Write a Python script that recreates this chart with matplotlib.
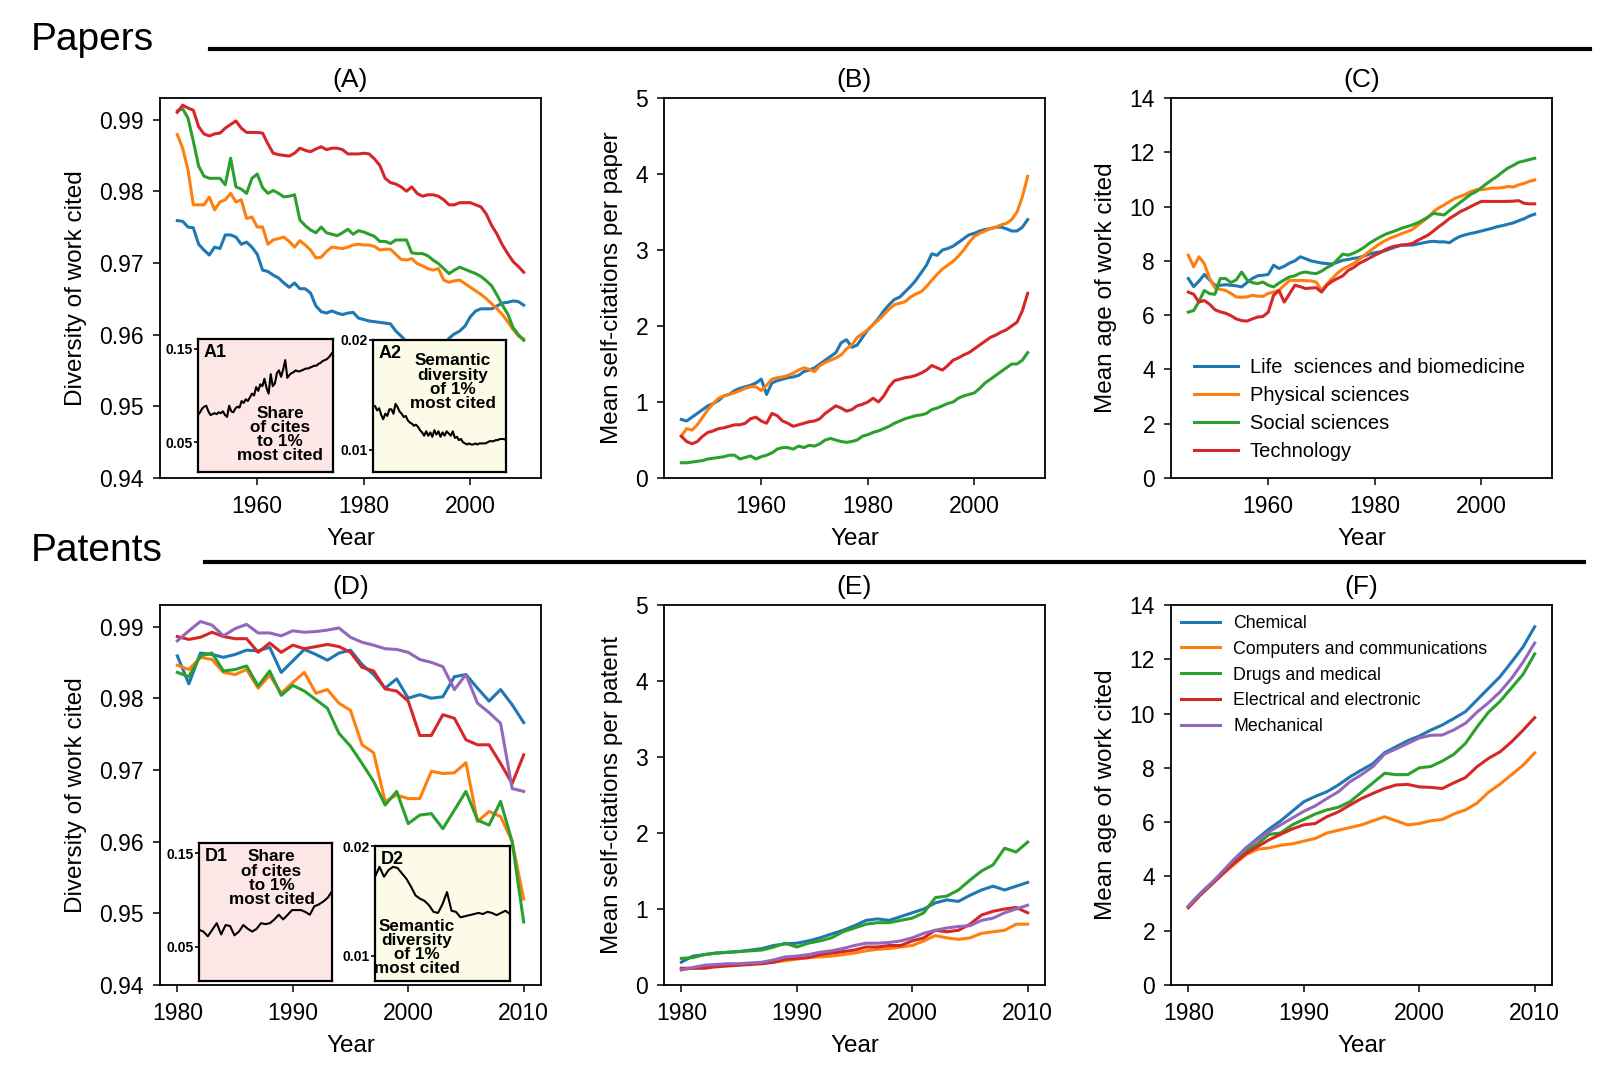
import numpy as np
import matplotlib
matplotlib.use('Agg')
import matplotlib.pyplot as plt
from matplotlib.lines import Line2D

plt.rcParams['font.family'] = ['Liberation Sans', 'DejaVu Sans']

# ---------------- data ----------------
years_papers = np.arange(1945, 2011)
years_patents = np.arange(1980, 2011)

paper_fields = ['Life  sciences and biomedicine', 'Physical sciences', 'Social sciences', 'Technology']
patent_fields = ['Chemical', 'Computers and communications', 'Drugs and medical',
                 'Electrical and electronic', 'Mechanical']
paper_colors = ['#1f77b4', '#ff7f0e', '#2ca02c', '#d62728']
patent_colors = ['#1f77b4', '#ff7f0e', '#2ca02c', '#d62728', '#9467bd']

# (A) diversity of work cited, papers
div_life = [0.9759, 0.9758, 0.9750, 0.9749, 0.9726, 0.9718, 0.9711, 0.9722, 0.9720, 0.9739,
            0.9739, 0.9736, 0.9726, 0.9729, 0.9722, 0.9712, 0.9690, 0.9688, 0.9683, 0.9679,
            0.9672, 0.9666, 0.9672, 0.9664, 0.9664, 0.9658, 0.9640, 0.9632, 0.9630, 0.9633,
            0.9630, 0.9628, 0.9630, 0.9631, 0.9623, 0.9621, 0.9619, 0.9618, 0.9617, 0.9616,
            0.9615, 0.9605, 0.9598, 0.9590, 0.9584, 0.9580, 0.9578, 0.9576, 0.9575, 0.9578,
            0.9585, 0.9595, 0.9601, 0.9605, 0.9612, 0.9625, 0.9633, 0.9636, 0.9636, 0.9636,
            0.9640, 0.9644, 0.9645, 0.9647, 0.9646, 0.9641]
div_phys = [0.9879, 0.9860, 0.9830, 0.9781, 0.9781, 0.9781, 0.9792, 0.9774, 0.9785, 0.9788,
            0.9797, 0.9785, 0.9788, 0.9762, 0.9764, 0.9750, 0.9750, 0.9726, 0.9732, 0.9734,
            0.9736, 0.9730, 0.9722, 0.9731, 0.9725, 0.9718, 0.9707, 0.9708, 0.9716, 0.9722,
            0.9721, 0.9720, 0.9722, 0.9725, 0.9726, 0.9725, 0.9725, 0.9723, 0.9718, 0.9719,
            0.9719, 0.9712, 0.9705, 0.9704, 0.9706, 0.9699, 0.9696, 0.9692, 0.9690, 0.9692,
            0.9676, 0.9673, 0.9675, 0.9676, 0.9671, 0.9666, 0.9661, 0.9656, 0.9650, 0.9643,
            0.9636, 0.9628, 0.9618, 0.9607, 0.9598, 0.9594]
div_soc = [0.9912, 0.9915, 0.9902, 0.9870, 0.9835, 0.9821, 0.9818, 0.9818, 0.9818, 0.9809,
           0.9846, 0.9806, 0.9803, 0.9797, 0.9818, 0.9824, 0.9805, 0.9797, 0.9801, 0.9797,
           0.9792, 0.9793, 0.9795, 0.9760, 0.9752, 0.9746, 0.9742, 0.9750, 0.9742, 0.9740,
           0.9738, 0.9742, 0.9747, 0.9740, 0.9745, 0.9743, 0.9740, 0.9737, 0.9730, 0.9730,
           0.9727, 0.9732, 0.9732, 0.9732, 0.9714, 0.9713, 0.9713, 0.9710, 0.9704, 0.9699,
           0.9692, 0.9685, 0.9690, 0.9694, 0.9691, 0.9688, 0.9685, 0.9681, 0.9675, 0.9668,
           0.9655, 0.9641, 0.9629, 0.9610, 0.9600, 0.9592]
div_tech = [0.9910, 0.9920, 0.9916, 0.9913, 0.9890, 0.9880, 0.9877, 0.9880, 0.9881, 0.9888,
            0.9893, 0.9898, 0.9888, 0.9882, 0.9882, 0.9882, 0.9881, 0.9866, 0.9853, 0.9851,
            0.9850, 0.9849, 0.9853, 0.9860, 0.9857, 0.9855, 0.9859, 0.9862, 0.9858, 0.9860,
            0.9860, 0.9858, 0.9852, 0.9852, 0.9852, 0.9853, 0.9852, 0.9845, 0.9836, 0.9818,
            0.9812, 0.9810, 0.9806, 0.9800, 0.9806, 0.9797, 0.9793, 0.9795, 0.9795, 0.9793,
            0.9788, 0.9781, 0.9781, 0.9784, 0.9784, 0.9784, 0.9781, 0.9778, 0.9768, 0.9752,
            0.9740, 0.9725, 0.9713, 0.9702, 0.9695, 0.9687]

# (A1) share of cites to 1% most cited, (A2) semantic diversity of 1% most cited
share_top_papers = [0.079, 0.082, 0.086, 0.088, 0.089, 0.083, 0.079, 0.080, 0.081, 0.080,
                    0.082, 0.081, 0.083, 0.079, 0.077, 0.089, 0.083, 0.082, 0.086, 0.088,
                    0.087, 0.094, 0.092, 0.096, 0.094, 0.098, 0.102, 0.100, 0.109, 0.105,
                    0.112, 0.110, 0.118, 0.108, 0.102, 0.123, 0.110, 0.113, 0.124, 0.127,
                    0.120, 0.128, 0.138, 0.119, 0.122, 0.124, 0.125, 0.127, 0.126, 0.126,
                    0.127, 0.128, 0.129, 0.129, 0.130, 0.131, 0.132, 0.132, 0.134, 0.135,
                    0.137, 0.138, 0.139, 0.141, 0.144, 0.147]
sem_top_papers = [0.0140, 0.0140, 0.0136, 0.0138, 0.0132, 0.0128, 0.0133, 0.0131, 0.0137, 0.0137,
                  0.0133, 0.0142, 0.0139, 0.0135, 0.0133, 0.0130, 0.0131, 0.0127, 0.0125, 0.0124,
                  0.0122, 0.0123, 0.0121, 0.0118, 0.0116, 0.0113, 0.0117, 0.0113, 0.0116, 0.0112,
                  0.0118, 0.0114, 0.0117, 0.0112, 0.0116, 0.0113, 0.0117, 0.0115, 0.0113, 0.0117,
                  0.0111, 0.0112, 0.0109, 0.0110, 0.0107, 0.0106, 0.0105, 0.0106, 0.0105, 0.0105,
                  0.0106, 0.0105, 0.0106, 0.0106, 0.0106, 0.0106, 0.0107, 0.0108, 0.0108, 0.0108,
                  0.0109, 0.0109, 0.0110, 0.0110, 0.0110, 0.0109]

# (B) mean self-citations per paper
self_life = [0.77, 0.75, 0.80, 0.85, 0.90, 0.95, 0.98, 1.02, 1.08, 1.10, 1.15, 1.18, 1.20, 1.22,
             1.25, 1.30, 1.10, 1.25, 1.28, 1.30, 1.32, 1.33, 1.35, 1.40, 1.42, 1.45, 1.50, 1.55,
             1.60, 1.65, 1.78, 1.82, 1.72, 1.75, 1.85, 1.95, 2.02, 2.10, 2.20, 2.28, 2.35, 2.38,
             2.45, 2.52, 2.60, 2.70, 2.80, 2.95, 2.93, 3.00, 3.02, 3.05, 3.10, 3.15, 3.20, 3.22,
             3.25, 3.27, 3.28, 3.30, 3.30, 3.28, 3.25, 3.25, 3.30, 3.40]
self_phys = [0.55, 0.65, 0.63, 0.70, 0.80, 0.90, 0.98, 1.05, 1.08, 1.10, 1.12, 1.15, 1.18, 1.20,
             1.20, 1.15, 1.22, 1.30, 1.32, 1.33, 1.35, 1.38, 1.42, 1.45, 1.43, 1.40, 1.48, 1.52,
             1.55, 1.58, 1.62, 1.70, 1.75, 1.85, 1.90, 1.95, 2.02, 2.08, 2.15, 2.22, 2.28, 2.30,
             2.32, 2.38, 2.42, 2.45, 2.52, 2.60, 2.68, 2.75, 2.80, 2.85, 2.92, 3.00, 3.10, 3.18,
             3.22, 3.25, 3.28, 3.30, 3.33, 3.35, 3.40, 3.50, 3.70, 3.97]
self_soc = [0.20, 0.20, 0.21, 0.22, 0.23, 0.25, 0.26, 0.27, 0.28, 0.30, 0.30, 0.25, 0.27, 0.29,
            0.25, 0.28, 0.30, 0.33, 0.38, 0.40, 0.40, 0.38, 0.42, 0.40, 0.43, 0.42, 0.45, 0.50,
            0.52, 0.50, 0.48, 0.47, 0.48, 0.50, 0.55, 0.57, 0.60, 0.62, 0.65, 0.68, 0.72, 0.75,
            0.78, 0.80, 0.82, 0.83, 0.85, 0.90, 0.92, 0.95, 0.98, 1.00, 1.05, 1.08, 1.10, 1.12,
            1.18, 1.25, 1.30, 1.35, 1.40, 1.45, 1.50, 1.50, 1.55, 1.65]
self_tech = [0.55, 0.48, 0.45, 0.48, 0.55, 0.60, 0.62, 0.65, 0.66, 0.68, 0.70, 0.70, 0.72, 0.78,
             0.80, 0.75, 0.72, 0.85, 0.82, 0.75, 0.72, 0.68, 0.70, 0.72, 0.74, 0.75, 0.78, 0.85,
             0.90, 0.95, 0.92, 0.88, 0.90, 0.95, 0.97, 1.00, 1.05, 1.00, 1.08, 1.20, 1.28, 1.30,
             1.32, 1.33, 1.35, 1.38, 1.42, 1.48, 1.45, 1.42, 1.48, 1.55, 1.58, 1.62, 1.65, 1.70,
             1.75, 1.80, 1.85, 1.88, 1.92, 1.95, 2.00, 2.05, 2.20, 2.43]

# (C) mean age of work cited, papers
age_life = [7.35, 7.05, 7.25, 7.50, 7.30, 7.10, 7.10, 7.12, 7.10, 7.08, 7.04, 7.20, 7.35, 7.45,
            7.47, 7.50, 7.84, 7.72, 7.80, 7.92, 8.00, 8.15, 8.08, 8.00, 7.96, 7.92, 7.90, 7.88,
            7.95, 8.02, 8.05, 8.09, 8.12, 8.18, 8.25, 8.30, 8.33, 8.38, 8.45, 8.52, 8.58, 8.58,
            8.58, 8.62, 8.66, 8.70, 8.72, 8.70, 8.70, 8.67, 8.80, 8.90, 8.96, 9.01, 9.05, 9.10,
            9.15, 9.20, 9.26, 9.30, 9.35, 9.40, 9.48, 9.55, 9.65, 9.72]
age_phys = [8.21, 7.78, 8.15, 7.90, 7.35, 7.00, 6.95, 6.91, 6.80, 6.67, 6.66, 6.67, 6.73, 6.70,
            6.69, 6.80, 6.85, 6.91, 7.10, 7.28, 7.28, 7.28, 7.27, 7.26, 7.22, 6.91, 7.15, 7.35,
            7.55, 7.70, 7.80, 7.90, 8.05, 8.20, 8.35, 8.50, 8.64, 8.75, 8.85, 8.92, 9.00, 9.07,
            9.15, 9.30, 9.45, 9.60, 9.81, 9.95, 10.06, 10.18, 10.30, 10.37, 10.45, 10.55, 10.62,
            10.62, 10.65, 10.68, 10.68, 10.70, 10.74, 10.72, 10.80, 10.85, 10.93, 10.98]
age_soc = [6.11, 6.17, 6.50, 6.91, 6.79, 6.77, 7.35, 7.35, 7.20, 7.30, 7.59, 7.30, 7.20, 7.16,
           7.22, 7.10, 7.04, 7.18, 7.30, 7.41, 7.45, 7.55, 7.59, 7.55, 7.53, 7.62, 7.75, 7.85,
           8.05, 8.25, 8.21, 8.28, 8.38, 8.50, 8.65, 8.77, 8.88, 8.98, 9.05, 9.12, 9.20, 9.26,
           9.32, 9.40, 9.50, 9.62, 9.75, 9.72, 9.69, 9.85, 10.00, 10.15, 10.30, 10.45, 10.55,
           10.70, 10.85, 10.99, 11.12, 11.28, 11.42, 11.52, 11.63, 11.68, 11.73, 11.78]
age_tech = [6.85, 6.77, 6.48, 6.54, 6.40, 6.20, 6.12, 6.07, 5.98, 5.86, 5.80, 5.78, 5.86, 5.93,
            5.95, 6.11, 6.73, 6.91, 6.48, 6.79, 7.10, 7.05, 6.98, 7.00, 7.01, 6.85, 7.10, 7.25,
            7.35, 7.45, 7.65, 7.75, 7.90, 8.00, 8.10, 8.21, 8.30, 8.42, 8.50, 8.55, 8.58, 8.60,
            8.64, 8.75, 8.85, 8.95, 9.10, 9.26, 9.40, 9.56, 9.68, 9.81, 9.90, 10.00, 10.10,
            10.19, 10.19, 10.19, 10.19, 10.19, 10.19, 10.20, 10.22, 10.12, 10.10, 10.10]

# (D) diversity of work cited, patents
pdiv_chem = [0.9859, 0.9820, 0.9863, 0.9861, 0.9857, 0.9861, 0.9867, 0.9866, 0.9871, 0.9836,
             0.9852, 0.9868, 0.9861, 0.9853, 0.9863, 0.9867, 0.9847, 0.9833, 0.9814, 0.9827,
             0.9800, 0.9805, 0.9800, 0.9802, 0.9830, 0.9833, 0.9814, 0.9796, 0.9812, 0.9791,
             0.9766]
pdiv_comp = [0.9846, 0.9840, 0.9857, 0.9854, 0.9836, 0.9833, 0.9840, 0.9814, 0.9832, 0.9807,
             0.9822, 0.9836, 0.9807, 0.9812, 0.9793, 0.9783, 0.9735, 0.9724, 0.9656, 0.9665,
             0.9660, 0.9660, 0.9698, 0.9695, 0.9696, 0.9710, 0.9628, 0.9642, 0.9635, 0.9600,
             0.9520]
pdiv_drug = [0.9836, 0.9830, 0.9859, 0.9863, 0.9838, 0.9840, 0.9845, 0.9817, 0.9838, 0.9804,
             0.9818, 0.9810, 0.9798, 0.9786, 0.9751, 0.9733, 0.9709, 0.9684, 0.9651, 0.9670,
             0.9625, 0.9637, 0.9639, 0.9618, 0.9644, 0.9670, 0.9630, 0.9623, 0.9656, 0.9600,
             0.9488]
pdiv_elec = [0.9886, 0.9882, 0.9885, 0.9892, 0.9886, 0.9883, 0.9883, 0.9864, 0.9877, 0.9864,
             0.9874, 0.9869, 0.9872, 0.9875, 0.9872, 0.9864, 0.9843, 0.9838, 0.9813, 0.9810,
             0.9796, 0.9748, 0.9748, 0.9777, 0.9772, 0.9742, 0.9735, 0.9735, 0.9709, 0.9681,
             0.9721]
pdiv_mech = [0.9880, 0.9894, 0.9907, 0.9902, 0.9887, 0.9897, 0.9903, 0.9891, 0.9891, 0.9887,
             0.9894, 0.9892, 0.9893, 0.9895, 0.9898, 0.9885, 0.9878, 0.9874, 0.9869, 0.9868,
             0.9864, 0.9854, 0.9850, 0.9844, 0.9812, 0.9833, 0.9793, 0.9780, 0.9765, 0.9674,
             0.9670]

# (D1) share of cites to 1% most cited, (D2) semantic diversity of 1% most cited
share_top_patents = [0.068, 0.066, 0.061, 0.068, 0.075, 0.063, 0.073, 0.072, 0.062, 0.066,
                     0.073, 0.069, 0.066, 0.069, 0.075, 0.074, 0.075, 0.079, 0.084, 0.079,
                     0.084, 0.089, 0.089, 0.089, 0.087, 0.084, 0.093, 0.095, 0.098, 0.102,
                     0.109]
sem_top_patents = [0.0172, 0.0181, 0.0172, 0.0178, 0.0181, 0.0180, 0.0175, 0.0170, 0.0163, 0.0155,
                   0.0152, 0.0150, 0.0146, 0.0140, 0.0139, 0.0147, 0.0158, 0.0141, 0.0140, 0.0135,
                   0.0136, 0.0137, 0.0138, 0.0139, 0.0138, 0.0140, 0.0139, 0.0137, 0.0139, 0.0141,
                   0.0138]

# (E) mean self-citations per patent
pself_chem = [0.30, 0.38, 0.40, 0.42, 0.43, 0.44, 0.46, 0.48, 0.52, 0.54, 0.55, 0.58, 0.62, 0.67,
              0.72, 0.78, 0.85, 0.87, 0.85, 0.90, 0.95, 1.00, 1.08, 1.12, 1.10, 1.18, 1.25, 1.30,
              1.25, 1.30, 1.35]
pself_comp = [0.20, 0.22, 0.24, 0.25, 0.26, 0.27, 0.28, 0.29, 0.30, 0.32, 0.34, 0.36, 0.37, 0.38,
              0.40, 0.42, 0.45, 0.47, 0.48, 0.50, 0.52, 0.58, 0.65, 0.62, 0.60, 0.62, 0.68, 0.70,
              0.72, 0.80, 0.80]
pself_drug = [0.35, 0.36, 0.40, 0.42, 0.43, 0.44, 0.45, 0.46, 0.50, 0.55, 0.50, 0.55, 0.58, 0.62,
              0.70, 0.75, 0.80, 0.82, 0.82, 0.85, 0.88, 0.95, 1.15, 1.17, 1.25, 1.38, 1.50, 1.58,
              1.80, 1.75, 1.88]
pself_elec = [0.22, 0.22, 0.22, 0.24, 0.25, 0.26, 0.27, 0.28, 0.30, 0.34, 0.35, 0.36, 0.40, 0.42,
              0.44, 0.46, 0.50, 0.50, 0.52, 0.52, 0.58, 0.62, 0.72, 0.70, 0.72, 0.80, 0.92, 0.97,
              1.00, 1.02, 0.95]
pself_mech = [0.20, 0.23, 0.26, 0.27, 0.28, 0.28, 0.29, 0.30, 0.33, 0.37, 0.38, 0.40, 0.43, 0.45,
              0.48, 0.52, 0.55, 0.55, 0.56, 0.58, 0.62, 0.68, 0.72, 0.75, 0.77, 0.78, 0.85, 0.88,
              0.95, 1.00, 1.05]

# (F) mean age of work cited, patents
page_chem = [2.90, 3.35, 3.75, 4.15, 4.60, 5.05, 5.40, 5.75, 6.05, 6.40, 6.75, 6.95, 7.12, 7.37,
             7.67, 7.92, 8.16, 8.56, 8.78, 9.00, 9.17, 9.39, 9.58, 9.82, 10.07, 10.50, 10.93,
             11.36, 11.90, 12.46, 13.20]
page_comp = [2.85, 3.30, 3.70, 4.10, 4.45, 4.80, 5.00, 5.05, 5.15, 5.20, 5.30, 5.40, 5.60, 5.70,
             5.80, 5.90, 6.05, 6.20, 6.05, 5.90, 5.95, 6.05, 6.10, 6.30, 6.45, 6.70, 7.10, 7.40,
             7.75, 8.10, 8.55]
page_drug = [2.90, 3.35, 3.75, 4.15, 4.60, 4.95, 5.20, 5.55, 5.60, 5.90, 6.10, 6.30, 6.45, 6.55,
             6.75, 7.10, 7.45, 7.80, 7.75, 7.75, 8.00, 8.05, 8.25, 8.50, 8.90, 9.50, 10.05,
             10.45, 10.95, 11.45, 12.20]
page_elec = [2.85, 3.30, 3.70, 4.10, 4.50, 4.85, 5.10, 5.35, 5.55, 5.75, 5.90, 5.95, 6.20, 6.38,
             6.63, 6.87, 7.06, 7.24, 7.37, 7.39, 7.30, 7.28, 7.24, 7.45, 7.64, 8.04, 8.35, 8.59,
             8.96, 9.39, 9.85]
page_mech = [2.90, 3.35, 3.75, 4.20, 4.65, 5.05, 5.35, 5.65, 5.90, 6.15, 6.40, 6.60, 6.87, 7.12,
             7.49, 7.75, 8.05, 8.51, 8.70, 8.90, 9.10, 9.20, 9.21, 9.40, 9.64, 10.05, 10.40,
             10.80, 11.30, 11.90, 12.60]

# ---------------- layout ----------------
W, H = 1600, 1091
col_left = [160, 664, 1171]
col_width = 381
row_top = [98, 605]
row_height = 380

TICK = 16.5
LABEL = 17.5
TITLE = 19


def px_rect(left, top, width, height):
    """ Прямоугольник в пикселях -> координаты фигуры
    """
    return [left / W, 1 - (top + height) / H, width / W, height / H]


def main_axes(fig, col, row, title):
    ax = fig.add_axes(px_rect(col_left[col], row_top[row], col_width, row_height))
    ax.set_title(title, fontsize=TITLE, pad=8)
    ax.tick_params(labelsize=TICK, length=5, width=1.1, pad=6.5)
    ax.tick_params(axis='x', pad=7.5)
    for s in ax.spines.values():
        s.set_linewidth(1.3)
    ax.set_xlabel('Year', fontsize=LABEL, labelpad=7)
    return ax


def draw_inset(fig, rect, years, values, ylim, ticks, facecolor, tag, text, text_xy):
    ax = fig.add_axes(px_rect(*rect))
    ax.set_facecolor(facecolor)
    ax.plot(years, values, color='black', lw=1.5)
    ax.set_xlim(years[0], years[-1])
    ax.set_ylim(*ylim)
    ax.set_xticks([])
    ax.set_yticks(ticks)
    ax.set_yticklabels([f'{t:g}' for t in ticks], fontsize=10, fontweight='bold')
    ax.tick_params(axis='y', length=3, width=1.2, pad=1)
    for s in ax.spines.values():
        s.set_linewidth(1.6)
    ax.text(0.04, 0.965, tag, transform=ax.transAxes, fontsize=13, fontweight='bold',
            ha='left', va='top')
    ax.text(text_xy[0], text_xy[1], text, transform=ax.transAxes, fontsize=12.3,
            fontweight='bold', ha='center', va='center', linespacing=0.93)
    return ax


fig = plt.figure(figsize=(W / 100, H / 100), dpi=100)

# section headers
fig.text(31 / W, 1 - 40 / H, 'Papers', fontsize=28, ha='left', va='center')
fig.add_artist(Line2D([210 / W, 1590 / W], [1 - 49 / H, 1 - 49 / H], color='black', lw=3))
fig.text(31 / W, 1 - 551 / H, 'Patents', fontsize=28, ha='left', va='center')
fig.add_artist(Line2D([205 / W, 1584 / W], [1 - 562 / H, 1 - 562 / H], color='black', lw=3))

# (A)
ax = main_axes(fig, 0, 0, '(A)')
for vals, c in zip([div_life, div_phys, div_soc, div_tech], paper_colors):
    ax.plot(years_papers, vals, color=c, lw=2.2)
ax.set_ylim(0.94, 0.993)
ax.set_yticks([0.94, 0.95, 0.96, 0.97, 0.98, 0.99])
ax.set_yticklabels(['0.94', '0.95', '0.96', '0.97', '0.98', '0.99'])
ax.set_xticks([1960, 1980, 2000])
ax.set_ylabel('Diversity of work cited', fontsize=LABEL, labelpad=9)

draw_inset(fig, (198, 339, 135, 133), years_papers, share_top_papers, (0.0178, 0.1607),
           [0.05, 0.15], '#fce6e6', 'A1', 'Share\nof cites\nto 1%\nmost cited', (0.61, 0.28))
draw_inset(fig, (373, 340, 133, 132), years_papers, sem_top_papers, (0.0080, 0.0200),
           [0.01, 0.02], '#fbfbe8', 'A2', 'Semantic\ndiversity\nof 1%\nmost cited', (0.60, 0.68))

# (B)
ax = main_axes(fig, 1, 0, '(B)')
for vals, c in zip([self_life, self_phys, self_soc, self_tech], paper_colors):
    ax.plot(years_papers, vals, color=c, lw=2.2)
ax.set_ylim(0, 5)
ax.set_xticks([1960, 1980, 2000])
ax.set_ylabel('Mean self-citations per paper', fontsize=LABEL, labelpad=9)

# (C)
ax = main_axes(fig, 2, 0, '(C)')
for vals, c, lab in zip([age_life, age_phys, age_soc, age_tech], paper_colors, paper_fields):
    ax.plot(years_papers, vals, color=c, lw=2.2, label=lab)
ax.set_ylim(0, 14)
ax.set_yticks(range(0, 15, 2))
ax.set_xticks([1960, 1980, 2000])
ax.set_ylabel('Mean age of work cited', fontsize=LABEL, labelpad=9)
ax.legend(loc='lower left', bbox_to_anchor=(0.038, 0.023), borderaxespad=0, frameon=False,
          fontsize=14.5, handlelength=2.2, labelspacing=0.45, handletextpad=0.6)

# (D)
ax = main_axes(fig, 0, 1, '(D)')
for vals, c in zip([pdiv_chem, pdiv_comp, pdiv_drug, pdiv_elec, pdiv_mech], patent_colors):
    ax.plot(years_patents, vals, color=c, lw=2.2)
ax.set_ylim(0.94, 0.993)
ax.set_yticks([0.94, 0.95, 0.96, 0.97, 0.98, 0.99])
ax.set_yticklabels(['0.94', '0.95', '0.96', '0.97', '0.98', '0.99'])
ax.set_xticks([1980, 1990, 2000, 2010])
ax.set_ylabel('Diversity of work cited', fontsize=LABEL, labelpad=9)

draw_inset(fig, (199, 843, 133, 138), years_patents, share_top_patents, (0.0132, 0.1607),
           [0.05, 0.15], '#fce6e6', 'D1', 'Share\nof cites\nto 1%\nmost cited', (0.545, 0.745))
draw_inset(fig, (375, 846, 135, 135), years_patents, sem_top_patents, (0.0077, 0.0200),
           [0.01, 0.02], '#fbfbe8', 'D2', 'Semantic\ndiversity\nof 1%\nmost cited', (0.31, 0.25))

# (E)
ax = main_axes(fig, 1, 1, '(E)')
for vals, c in zip([pself_chem, pself_comp, pself_drug, pself_elec, pself_mech], patent_colors):
    ax.plot(years_patents, vals, color=c, lw=2.2)
ax.set_ylim(0, 5)
ax.set_xticks([1980, 1990, 2000, 2010])
ax.set_ylabel('Mean self-citations per patent', fontsize=LABEL, labelpad=9)

# (F)
ax = main_axes(fig, 2, 1, '(F)')
for vals, c, lab in zip([page_chem, page_comp, page_drug, page_elec, page_mech],
                        patent_colors, patent_fields):
    ax.plot(years_patents, vals, color=c, lw=2.2, label=lab)
ax.set_ylim(0, 14)
ax.set_yticks(range(0, 15, 2))
ax.set_xticks([1980, 1990, 2000, 2010])
ax.set_ylabel('Mean age of work cited', fontsize=LABEL, labelpad=9)
ax.legend(loc='upper left', borderaxespad=0.15, frameon=False, fontsize=12.8,
          handlelength=2.2, labelspacing=0.5, handletextpad=0.75)

fig.savefig('out.png', dpi=100)
